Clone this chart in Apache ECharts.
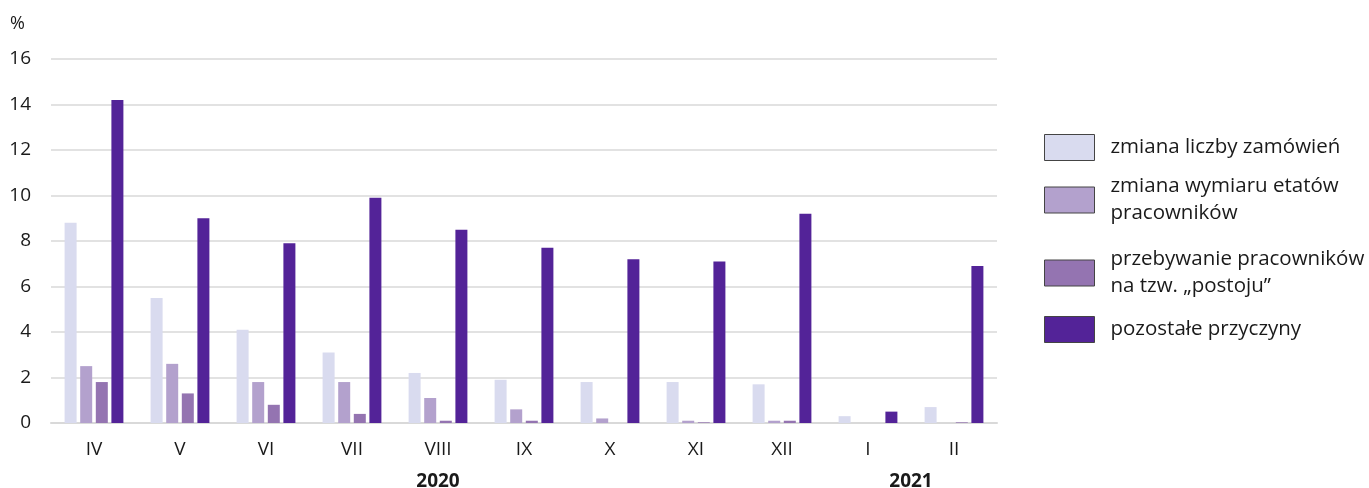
<!DOCTYPE html>
<html>
<head>
<meta charset="utf-8">
<script src="https://cdn.jsdelivr.net/npm/echarts@6/dist/echarts.min.js"></script>
<style>
html,body{margin:0;padding:0;background:#fff;}
#chart{width:1369px;height:488px;}
</style>
</head>
<body>
<div id="chart"></div>
<script>
const categories = ['IV','V','VI','VII','VIII','IX','X','XI','XII','I','II'];
const yearLabels = ['2020','2021'];
const yearPositions = [4.5, 10];
const seriesNames = [
  'zmiana liczby zamówień',
  'zmiana wymiaru etatów\npracowników',
  'przebywanie pracowników\nna tzw. „postoju”',
  'pozostałe przyczyny'
];
const zmianaZamowien = [8.8, 5.5, 4.1, 3.1, 2.2, 1.9, 1.8, 1.8, 1.7, 0.3, 0.7];
const zmianaEtatow   = [2.5, 2.6, 1.8, 1.8, 1.1, 0.6, 0.2, 0.1, 0.1, 0, 0];
const postoj         = [1.8, 1.3, 0.8, 0.4, 0.1, 0.1, 0, 0.03, 0.1, 0, 0.03];
const pozostale      = [14.2, 9.0, 7.9, 9.9, 8.5, 7.7, 7.2, 7.1, 9.2, 0.5, 6.9];
const colors = ['#d9dbef', '#b3a1cd', '#9474b1', '#532398'];

const font = '"Open Sans", "Noto Sans", sans-serif';
const chart = echarts.init(document.getElementById('chart'));
const values = [zmianaZamowien, zmianaEtatow, postoj, pozostale];

const legendPads = [
  [0, 0, 0, 11],
  [16.5, 0, -10.5, 11],
  [20.5, 0, -6.5, 11],
  [0, 0, 0, 11]
];

chart.setOption({
  animation: false,
  textStyle: {fontFamily: font},
  title: {text: '%', left: 5, top: 10, textStyle: {fontFamily: font, fontSize: 18, fontWeight: 'normal', color: '#1a1a1a'}},
  grid: {left: 51, right: 372, top: 59, bottom: 65, outerBoundsMode: 'none', containLabel: false},
  legend: {
    orient: 'vertical',
    left: 1039,
    top: 129,
    itemWidth: 50,
    itemHeight: 26,
    itemGap: 9,
    icon: 'rect',
    itemStyle: {borderColor: '#444', borderWidth: 1},
    textStyle: {fontFamily: font, fontSize: 20.5, color: '#1a1a1a', lineHeight: 27, padding: [0, 0, 0, 11]},
    data: seriesNames.map((n, i) => ({name: n, textStyle: {padding: legendPads[i]}}))
  },
  xAxis: [{
    type: 'category',
    data: categories,
    axisLine: {lineStyle: {color: '#d9d9d9', width: 2}},
    axisTick: {length: 7, lineStyle: {color: '#d9d9d9', width: 2}},
    axisLabel: {fontFamily: font, fontSize: 19, color: '#1a1a1a', margin: 17}
  }, {
    type: 'value',
    min: 0,
    max: 11,
    position: 'bottom',
    offset: 32,
    axisLine: {show: false},
    axisTick: {show: false},
    splitLine: {show: false},
    axisLabel: {
      customValues: yearPositions,
      fontFamily: font, fontSize: 19, fontWeight: 'bold', color: '#1a1a1a', margin: 17,
      formatter: function (v) { const i = yearPositions.indexOf(v); return i >= 0 ? yearLabels[i] : ''; }
    }
  }],
  yAxis: {
    type: 'value',
    min: 0, max: 16, interval: 2,
    axisLine: {show: false},
    axisTick: {show: false},
    splitLine: {lineStyle: {color: '#d9d9d9', width: 1.5}},
    axisLabel: {fontFamily: font, fontSize: 19, color: '#1a1a1a', margin: 20}
  },
  series: seriesNames.map((n, i) => ({
    name: n,
    type: 'bar',
    xAxisIndex: 0,
    data: values[i],
    barWidth: 12,
    barGap: '30%',
    itemStyle: {color: colors[i]}
  }))
});
</script>
</body>
</html>
